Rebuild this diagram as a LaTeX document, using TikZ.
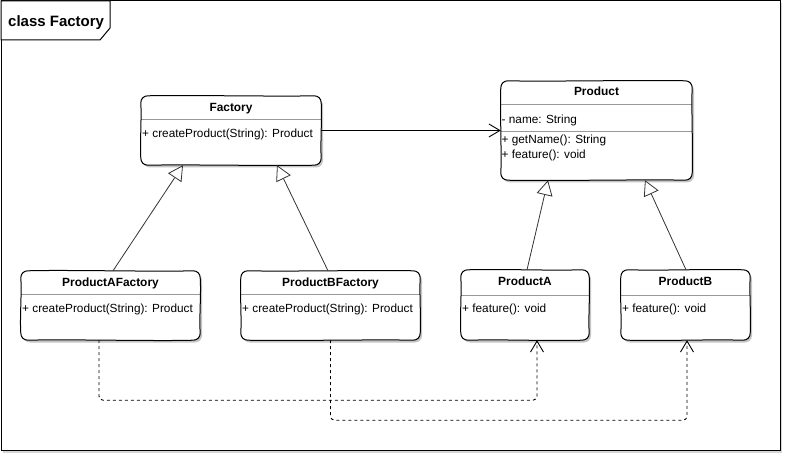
\documentclass[tikz,border=0pt]{standalone}
\usepackage{fontspec}
\setmainfont{Liberation Sans}
\usetikzlibrary{arrows.meta,shadows,calc}
\newcommand\skbox[2][0.9]{%
 \draw[line width=1pt, line join=round]
  ([xshift=7pt]#2.north west)
  .. controls ([xshift=45pt,yshift=#1pt]#2.north west) and ([xshift=-45pt,yshift=-#1pt]#2.north east) .. ([xshift=-7pt]#2.north east)
  .. controls ([xshift=-3pt]#2.north east) and ([yshift=-3pt]#2.north east) .. ([yshift=-7pt]#2.north east)
  .. controls ([xshift=#1pt,yshift=-22pt]#2.north east) and ([xshift=-#1pt,yshift=22pt]#2.south east) .. ([yshift=7pt]#2.south east)
  .. controls ([yshift=3pt]#2.south east) and ([xshift=-3pt]#2.south east) .. ([xshift=-7pt]#2.south east)
  .. controls ([xshift=-45pt,yshift=-#1pt]#2.south east) and ([xshift=45pt,yshift=#1pt]#2.south west) .. ([xshift=7pt]#2.south west)
  .. controls ([xshift=3pt]#2.south west) and ([yshift=3pt]#2.south west) .. ([yshift=7pt]#2.south west)
  .. controls ([xshift=-#1pt,yshift=22pt]#2.south west) and ([xshift=#1pt,yshift=-22pt]#2.north west) .. ([yshift=-7pt]#2.north west)
  .. controls ([yshift=-3pt]#2.north west) and ([xshift=3pt]#2.north west) .. ([xshift=7pt]#2.north west) -- cycle;}
\begin{document}
\begin{tikzpicture}[x=1pt,y=-1pt,
 cls/.style={draw=none, fill=white, inner sep=0pt, rounded corners=7pt,
   drop shadow={shadow xshift=2pt, shadow yshift=-2.5pt, fill=black!50, opacity=0.45}},
 ttl/.style={font=\fontsize{11.9}{14}\selectfont\bfseries, inner sep=0pt, anchor=base},
 mem/.style={font=\fontsize{11.8}{14}\selectfont, inner sep=0pt, anchor=base west},
 sepl/.style={draw=black!40, line width=0.7pt},
 inh/.style={draw=black!80, line width=0.8pt, -{Triangle[open, length=15pt, width=16pt, fill=white]}},
 assoc/.style={draw=black, line width=0.9pt, -{Straight Barb[length=11pt, width=13pt]}},
 dep/.style={draw=black, line width=0.9pt, dash pattern=on 3pt off 3pt, rounded corners=4pt, -{Straight Barb[length=11pt, width=13pt]}},
]
\useasboundingbox (0,0) rectangle (792,462);

% frame
\draw[line width=1pt, fill=white, drop shadow={shadow xshift=2pt, shadow yshift=-2.5pt, fill=black!40, opacity=0.4}] (1,1) rectangle (780,450);
\draw[line width=1pt, fill=white] (1,1) -- (110,1) -- (110,28) -- (100,40) -- (1,40) -- cycle;
\node[font=\fontsize{15}{18}\selectfont\bfseries, inner sep=0pt, anchor=base west] (frametitle) at (8,26.7) {class Factory};

% classes
\node[cls, minimum width=180pt, minimum height=69pt] (fac) at (231,130.5) {};
\node[cls, minimum width=191pt, minimum height=99pt] (prod) at (596.5,130.5) {};
\node[cls, minimum width=179pt, minimum height=69pt] (pafac) at (110.5,305.5) {};
\node[cls, minimum width=179pt, minimum height=69pt] (pbfac) at (330.5,305.5) {};
\node[cls, minimum width=128pt, minimum height=70pt] (pa) at (525,305) {};
\node[cls, minimum width=129pt, minimum height=70pt] (pb) at (685.5,305) {};

% separators
\draw[sepl] ([yshift=-24pt]fac.north west) -- ([yshift=-24pt]fac.north east);
\draw[sepl] ([yshift=-24pt]prod.north west) -- ([yshift=-24pt]prod.north east);
\draw[sepl] ([yshift=-51pt]prod.north west) -- ([yshift=-51pt]prod.north east);
\draw[sepl] ([yshift=-24pt]pafac.north west) -- ([yshift=-24pt]pafac.north east);
\draw[sepl] ([yshift=-24pt]pbfac.north west) -- ([yshift=-24pt]pbfac.north east);
\draw[sepl] ([yshift=-26pt]pa.north west) -- ([yshift=-26pt]pa.north east);
\draw[sepl] ([yshift=-26pt]pb.north west) -- ([yshift=-26pt]pb.north east);

% sketchy outlines
\skbox{fac}
\skbox[-1]{prod}
\skbox[1.1]{pafac}
\skbox[-0.9]{pbfac}
\skbox[1]{pa}
\skbox[-1]{pb}

% texts
\node[ttl] (facT) at (231,112) {Factory};
\node[mem] (facM) at (142,138) {+ createProduct(String): Product};

\node[ttl] (prodT) at (596.5,96) {Product};
\node[mem] (prodA) at (501.5,123.3) {- name: String};
\node[mem] (prodM1) at (501.5,143.3) {+ getName(): String};
\node[mem] (prodM2) at (501.5,158.3) {+ feature(): void};

\node[ttl] (pafacT) at (110.5,286.5) {ProductAFactory};
\node[mem] (pafacM) at (22,312.7) {+ createProduct(String): Product};

\node[ttl] (pbfacT) at (330.5,286.5) {ProductBFactory};
\node[mem] (pbfacM) at (242,312.7) {+ createProduct(String): Product};

\node[ttl] (paT) at (525,285.7) {ProductA};
\node[mem] (paM) at (462,312.7) {+ feature(): void};

\node[ttl] (pbT) at (685.5,285.7) {ProductB};
\node[mem] (pbM) at (622,312.7) {+ feature(): void};

% association
\draw[assoc] (fac.east) -- (prod.west);

% inheritance
\draw[inh] ([xshift=2.5pt]pafac.north) -- ([xshift=-48pt]fac.south);
\draw[inh] ([xshift=-2.5pt]pbfac.north) -- ([xshift=46pt]fac.south);
\draw[inh] ([xshift=2pt]pa.north) -- ([xshift=-48.5pt]prod.south);
\draw[inh] ([xshift=0.5pt]pb.north) -- ([xshift=48.5pt]prod.south);

% dependencies
\draw[dep] ([xshift=-11.5pt]pafac.south) -- ++(0,60) -| ([xshift=12pt]pa.south);
\draw[dep] (pbfac.south) -- ++(0,80) -| ([xshift=1.5pt]pb.south);

\end{tikzpicture}
\end{document}
